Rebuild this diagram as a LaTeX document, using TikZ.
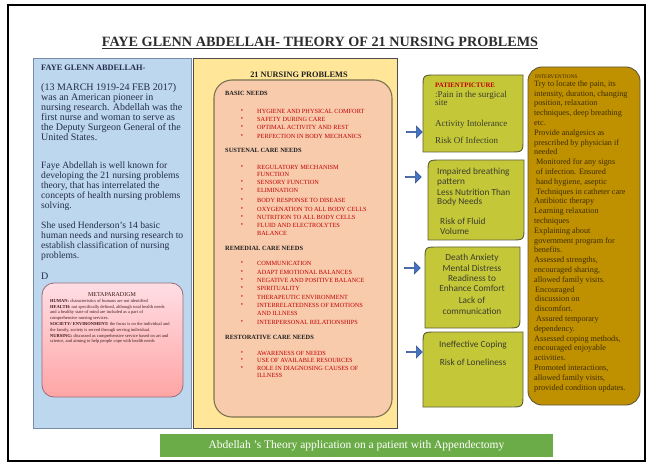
\documentclass[tikz,border=0pt]{standalone}
\usepackage{fontspec}
\setmainfont{Liberation Serif}
\newfontfamily\calfont{Carlito}
\usetikzlibrary{shapes.arrows}
\definecolor{blueF}{RGB}{189,215,238}
\definecolor{blueD}{RGB}{120,140,165}
\definecolor{leftTxt}{RGB}{35,45,75}
\definecolor{yelF}{RGB}{255,230,153}
\definecolor{salF}{RGB}{248,203,173}
\definecolor{salD}{RGB}{125,115,80}
\definecolor{redC}{RGB}{192,0,0}
\definecolor{headC}{RGB}{30,30,30}
\definecolor{grnF}{RGB}{196,200,56}
\definecolor{grnD}{RGB}{95,95,60}
\definecolor{grnTxt}{RGB}{60,60,45}
\definecolor{goldF}{RGB}{191,144,0}
\definecolor{goldD}{RGB}{95,85,60}
\definecolor{goldTxt}{RGB}{62,46,0}
\definecolor{arrF}{RGB}{68,114,196}
\definecolor{arrD}{RGB}{47,82,143}
\definecolor{pinkT}{RGB}{255,222,228}
\definecolor{pinkB}{RGB}{255,165,165}
\definecolor{pinkD}{RGB}{150,110,120}
\definecolor{metaTxt}{RGB}{60,25,25}
\definecolor{bannerG}{RGB}{108,172,72}
\definecolor{titleC}{RGB}{45,45,45}
\tikzset{
  lt/.style={inner sep=0pt, text=leftTxt, align=left},
  itm/.style={inner sep=0pt, anchor=west, text=redC, font=\fontsize{6.3}{7}\selectfont},
  bul/.style={inner sep=0pt, anchor=center, text=redC, font=\fontsize{6.3}{7}\selectfont},
  hd/.style={inner sep=0pt, anchor=west, text=headC, font=\bfseries\fontsize{6.4}{7}\selectfont},
  gtxt/.style={inner sep=0pt, text=grnTxt, font=\calfont\fontsize{9.3}{10}\selectfont},
  stxt/.style={inner sep=0pt, anchor=west, text=grnTxt, font=\fontsize{9}{10}\selectfont},
  blockarrow/.style={single arrow, fill=arrF, draw=arrD, line width=0.5pt,
     minimum height=16pt, minimum width=12pt, single arrow head extend=2.5pt,
     single arrow tip angle=90, inner sep=0pt},
  gbox/.style={fill=grnF, draw=grnD, line width=0.9pt},
}
\newcommand\diagbox[5]{%
  \filldraw[gbox] (#1,#4) -- ({#1},{#2+#5}) .. controls (#1,#2) .. ({#1+#5},#2) -- (#3,#2)
    -- ({#3},{#4-#5}) .. controls (#3,#4) .. ({#3-#5},#4) -- cycle;}
\begin{document}
\begin{tikzpicture}[x=1pt,y=-1pt]
\useasboundingbox (0,0) rectangle (648,465);
\fill[white] (0,0) rectangle (648,465);
\draw[black, line width=1.2pt] (8,5) rectangle (645,461);

% title
\node[inner sep=0pt, text=titleC, font=\bfseries\fontsize{14.2}{16}\selectfont] (title) at (320,43)
  {\underline{FAYE GLENN ABDELLAH- THEORY OF 21 NURSING PROBLEMS}};

% left blue box
\draw[fill=blueF, draw=blueD, line width=0.8pt] (33,58) rectangle (191,428);
\node[lt, anchor=west, font=\bfseries\fontsize{8.3}{9}\selectfont] (lhead) at (41,68) {FAYE GLENN ABDELLAH-};
\node[lt, anchor=north west, font=\fontsize{10}{10}\selectfont] (lp1) at (41,83.5)
  {(13 MARCH 1919-24 FEB 2017)\\was an American pioneer in\\nursing research. Abdellah was the\\first nurse and woman to serve as\\the Deputy Surgeon General of the\\United States.};
\node[lt, anchor=north west, font=\fontsize{9.6}{10}\selectfont] (lp2) at (41,161.5)
  {Faye Abdellah is well known for\\developing the 21 nursing problems\\theory, that has interrelated the\\concepts of health nursing problems\\solving.};
\node[lt, anchor=north west, font=\fontsize{9.6}{10}\selectfont] (lp3) at (41,221.5)
  {She used Henderson's 14 basic\\human needs and nursing research to\\establish classification of nursing\\problems.};
\node[lt, anchor=west, font=\fontsize{10}{10}\selectfont] (lD) at (41,276) {D};

% metaparadigm
\draw[rounded corners=12, top color=pinkT, bottom color=pinkB, draw=pinkD, line width=0.8pt] (42,283) rectangle (183,397);
\node[inner sep=0pt, text=metaTxt, font=\fontsize{6}{7}\selectfont] (metat) at (112,295) {METAPARADIGM};
\node[inner sep=0pt, anchor=north west, align=left, text=metaTxt, font=\fontsize{4.5}{5.8}\selectfont] (metab) at (50,299)
  {\textbf{HUMAN:} characteristics of humans are not identified\\
   \textbf{HEALTH:} not specifically defined, although total health needs\\
   and a healthy state of mind are included as a part of\\
   comprehensive nursing services.\\
   \textbf{SOCIETY/ ENVIRONMENT:} the focus is on the individual and\\
   the family, society is served through serving individual.\\
   \textbf{NURSING:} discussed as comprehensive service based on art and\\
   science, and aiming to help people cope with health needs};

% middle yellow box
\draw[fill=yelF, draw=black!70, line width=0.8pt] (193,58) rectangle (397,428);
\node[inner sep=0pt, text=headC, font=\bfseries\fontsize{8.3}{9}\selectfont] (mtitle) at (299,75) {21 NURSING PROBLEMS};
\draw[rounded corners=18, fill=salF, draw=salD, line width=1.1pt] (214,80) rectangle (392,417);

\node[hd] (h1) at (225,93) {BASIC NEEDS};
\node[hd] (h2) at (225,150) {SUSTENAL CARE NEEDS};
\node[hd] (h3) at (225,248) {REMEDIAL CARE NEEDS};
\node[hd] (h4) at (225,337) {RESTORATIVE CARE NEEDS};

\foreach \y/\t [count=\i] in {
  111/HYGIENE AND PHYSICAL COMFORT, 119/SAFETY DURING CARE, 127/OPTIMAL ACTIVITY AND REST,
  136/PERFECTION IN BODY MECHANICS,
  167/REGULATORY MECHANISM, 182/SENSORY FUNCTION, 190/ELIMINATION, 200/BODY RESPONSE TO DISEASE,
  209/OXYGENATION TO ALL BODY CELLS, 217/NUTRITION TO ALL BODY CELLS, 225/FLUID AND ELECTROLYTES,
  263/COMMUNICATION, 272/ADAPT EMOTIONAL BALANCES, 280/NEGATIVE AND POSITIVE BALANCE,
  288/SPIRITUALITY, 297/THERAPEUTIC ENVIRONMENT, 305/INTERRELATEDNESS OF EMOTIONS,
  322/INTERPERSONAL RELATIONSHIPS,
  353/AWARENESS OF NEEDS, 360/USE OF AVAILABLE RESOURCES, 368/ROLE IN DIAGNOSING CAUSES OF}
{
  \node[bul] (b\i) at (242,\y) {\textbullet};
  \node[itm] (m\i) at (257,\y) {\t};
}
\node[itm] (c1) at (257,174) {FUNCTION};
\node[itm] (c2) at (257,233) {BALANCE};
\node[itm] (c3) at (257,313) {AND ILLNESS};
\node[itm] (c4) at (257,375) {ILLNESS};

% green boxes
\diagbox{423}{75}{523}{152}{13}
\diagbox{428}{160}{524}{240}{13}
\diagbox{425}{247}{520}{328}{13}
\diagbox{423}{332}{523}{407}{13}

\node[inner sep=0pt, anchor=west, text=redC, font=\bfseries\fontsize{6.8}{8}\selectfont] (pp) at (435,85) {PATIENTPICTURE};
\node[stxt] (g11) at (435,95) {:Pain in the surgical};
\node[stxt] (g12) at (435,103) {site};
\node[stxt] (g13) at (435,124) {Activity Intolerance};
\node[stxt] (g14) at (435,140) {Risk Of Infection};

\node[gtxt, anchor=west] (g21) at (437,172) {Impaired breathing};
\node[gtxt, anchor=west] (g22) at (437,182) {pattern};
\node[gtxt, anchor=west] (g23) at (437,192) {Less Nutrition Than};
\node[gtxt, anchor=west] (g24) at (437,202) {Body Needs};
\node[gtxt, anchor=west] (g25) at (440,221) {Risk of Fluid};
\node[gtxt, anchor=west] (g26) at (440,231) {Volume};

\node[gtxt] (g31) at (472,258) {Death Anxiety};
\node[gtxt] (g32) at (472,268) {Mental Distress};
\node[gtxt] (g33) at (472,278) {Readiness to};
\node[gtxt] (g34) at (472,288) {Enhance Comfort};
\node[gtxt] (g35) at (472,300) {Lack of};
\node[gtxt] (g36) at (472,311) {communication};

\node[gtxt] (g41) at (473,345) {Ineffective Coping};
\node[gtxt] (g42) at (473,362) {Risk of Loneliness};

% arrows
\node[blockarrow] (a1) at (414,132) {};
\node[blockarrow] (a2) at (413,177) {};
\node[blockarrow] (a3) at (412,268) {};
\node[blockarrow] (a4) at (414,352) {};

% right gold box
\draw[rounded corners=14, fill=goldF, draw=goldD, line width=0.9pt] (528,67) rectangle (640,405);
\node[inner sep=0pt, anchor=west, text=goldTxt, font=\fontsize{5.4}{6}\selectfont] (ivh) at (535,77) {INTERVENTIONS};
\node[inner sep=0pt, anchor=north west, align=left, text=goldTxt, font=\fontsize{8.2}{9.8}\selectfont] (iv) at (534,80.5)
  {Try to locate the pain, its\\intensity, duration, changing\\position, relaxation\\techniques, deep breathing\\etc.\\
   Provide analgesics as\\prescribed by physician if\\needed\\
   \hspace{2pt}Monitored for any signs\\\hspace{2pt}of infection. Ensured\\\hspace{2pt}hand hygiene, aseptic\\\hspace{2pt}Techniques in catheter care\\
   Antibiotic therapy\\Learning relaxation\\techniques\\
   Explaining about\\government program for\\benefits.\\
   Assessed strengths,\\encouraged sharing,\\allowed family visits.\\
   \hspace{1pt}Encouraged\\\hspace{1pt}discussion on\\\hspace{1pt}discomfort.\\
   \hspace{2pt}Assured temporary\\dependency.\\
   Assessed coping methods,\\encouraged enjoyable\\activities.\\
   Promoted interactions,\\allowed family visits,\\provided condition updates.};

% bottom banner
\fill[bannerG] (160,434) rectangle (553,457);
\node[inner sep=0pt, text=white, font=\fontsize{11.5}{12}\selectfont] (banner) at (356.5,445.5)
  {Abdellah 's Theory application on a patient with Appendectomy};
\end{tikzpicture}
\end{document}
